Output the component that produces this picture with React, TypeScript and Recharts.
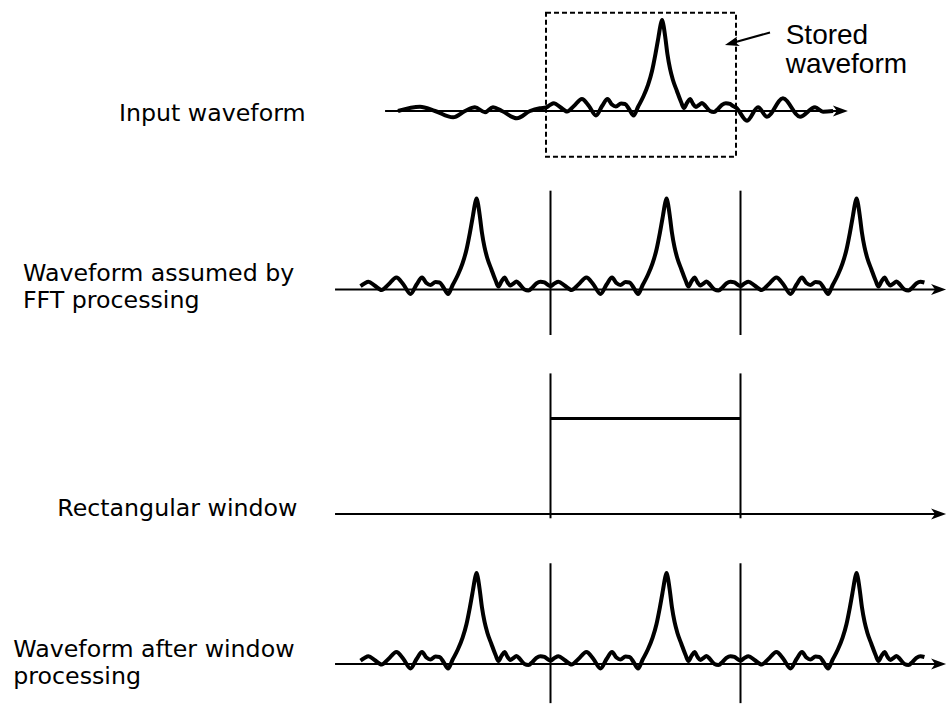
import React from 'react';
import { LineChart, Line, XAxis, YAxis, ReferenceLine, ReferenceArea, ReferenceDot } from 'recharts';

// one period of the pulse train (t in periods, v relative to the peak height)
const periodT = [0, 0.021, 0.042, 0.074, 0.111, 0.147, 0.189, 0.226, 0.263, 0.295, 0.324, 0.347, 0.368, 0.395, 0.416, 0.437, 0.461, 0.484, 0.511, 0.537, 0.558, 0.576, 0.592, 0.603, 0.611, 0.618, 0.629, 0.639, 0.653, 0.668, 0.689, 0.711, 0.726, 0.742, 0.758, 0.774, 0.789, 0.805, 0.821, 0.839, 0.863, 0.884, 0.905, 0.926, 0.947, 0.968, 0.984];
const periodV = [0.038, 0.066, 0.084, 0.044, -0.005, 0.055, 0.132, 0.055, -0.049, 0.055, 0.132, 0.071, 0.049, 0.082, 0.077, 0.022, -0.049, 0.044, 0.154, 0.286, 0.44, 0.626, 0.813, 0.945, 1.0, 0.945, 0.791, 0.626, 0.462, 0.341, 0.22, 0.099, 0.033, 0.088, 0.132, 0.077, 0.044, 0.066, 0.088, 0.055, 0.0, -0.011, 0.022, 0.066, 0.085, 0.077, 0.055];

// input waveform before the stored block
const leadT = [-0.779, -0.663, -0.584, -0.489, -0.426, -0.374, -0.321, -0.279, -0.232, -0.153, -0.084, -0.032];
const leadV = [0, 0.047, 0, -0.069, 0, 0.041, -0.014, 0.041, 0, -0.08, 0, 0.03];

// input waveform after the stored block
const tailT = [1.0, 1.058, 1.116, 1.163, 1.247, 1.337, 1.416, 1.458, 1.511];
const tailV = [0.038, -0.107, 0.041, -0.063, 0.14, -0.063, 0.041, -0.008, 0];

const periodOffsets = [-1, 0, 1];
const waveEnd = 1.97;

const markerT = [0, 1];
const windowT = [0, 1];
const windowV = [1.05, 1.05];

const PX_PER_T = 190;
const PX_PER_V = 91;
const W = 949;

const inputData = [
  ...leadT.map((t, i) => ({ t, v: leadV[i] })),
  ...periodT.map((t, i) => ({ t, v: periodV[i] })),
  ...tailT.map((t, i) => ({ t, v: tailV[i] })),
];

const repeatedData = periodOffsets
  .flatMap((k) => periodT.map((t, i) => ({ t: k + t, v: periodV[i] })))
  .filter((d) => d.t <= waveEnd);

const windowData = windowT.map((t, i) => ({ t, v: windowV[i] }));

const arrowHead = (len: number, half: number, notch: number, angle: number) => (props: any) => {
  const { cx, cy } = props;
  return (
    <path
      d={`M0,0 L${-len},${-half} L${-len + notch},0 L${-len},${half} Z`}
      transform={`translate(${cx},${cy}) rotate(${angle})`}
      fill="#000"
    />
  );
};

type PanelProps = {
  top: number;
  height: number;
  axisY: number;
  originX: number;
  data: Array<{ t: number; v: number }>;
  lineWidth: number;
  axisFrom: number;
  axisTo: number;
  markers?: [number, number];
  extra?: React.ReactNode[];
};

const Panel = ({ top, height, axisY, originX, data, lineWidth, axisFrom, axisTo, markers, extra }: PanelProps) => {
  const xDomain = [-originX / PX_PER_T, (W - originX) / PX_PER_T];
  const yDomain = [(axisY - (top + height)) / PX_PER_V, (axisY - top) / PX_PER_V];
  return (
    <div style={{ position: 'absolute', left: 0, top }}>
      <LineChart width={W} height={height} data={data} margin={{ top: 0, right: 0, bottom: 0, left: 0 }}>
        <XAxis dataKey="t" type="number" domain={xDomain} allowDataOverflow hide />
        <YAxis type="number" domain={yDomain} allowDataOverflow hide />
        <ReferenceLine
          segment={[{ x: axisFrom, y: 0 }, { x: axisTo - 0.03, y: 0 }]}
          stroke="#000"
          strokeWidth={2}
        />
        <ReferenceDot x={axisTo} y={0} r={1} ifOverflow="visible" shape={arrowHead(15, 5.5, 4, 0)} />
        {markers
          ? markerT.map((t) => (
              <ReferenceLine
                key={'m' + t}
                segment={[{ x: t, y: markers[0] }, { x: t, y: markers[1] }]}
                stroke="#000"
                strokeWidth={2}
              />
            ))
          : null}
        {extra}
        <Line
          dataKey="v"
          type={lineWidth > 3 ? 'monotone' : 'linear'}
          stroke="#000"
          strokeWidth={lineWidth}
          strokeLinejoin="round"
          dot={false}
          activeDot={false}
          isAnimationActive={false}
        />
      </LineChart>
    </div>
  );
};

const labelFont: React.CSSProperties = {
  position: 'absolute',
  fontFamily: '"DejaVu Sans", sans-serif',
  fontSize: 23.7,
  lineHeight: 1,
  whiteSpace: 'nowrap',
  color: '#000',
};

// baseline -> top for line-height 1
const dv = (baseline: number) => baseline - 0.846 * 23.7;

export default function App() {
  return (
    <div style={{ position: 'absolute', left: 0, top: 0, width: W, height: 704, background: '#fff', overflow: 'hidden' }}>
      <Panel
        top={0}
        height={175}
        axisY={111}
        originX={546}
        data={inputData}
        lineWidth={4}
        axisFrom={-0.847}
        axisTo={1.589}
        extra={[
          <ReferenceArea
            key="box"
            x1={0}
            x2={1}
            y1={-0.502}
            y2={1.08}
            fill="none"
            stroke="#000"
            strokeWidth={2}
            strokeDasharray="5 3"
          />,
          <ReferenceLine
            key="ptr"
            segment={[{ x: 1.179, y: 0.863 }, { x: 0.975, y: 0.745 }]}
            stroke="#000"
            strokeWidth={2}
          />,
          <ReferenceDot key="ptrHead" x={0.942} y={0.725} r={1} ifOverflow="visible" shape={arrowHead(14, 5, 3.5, 164.5)} />,
        ]}
      />
      <Panel
        top={175}
        height={175}
        axisY={289.5}
        originX={550.5}
        data={repeatedData}
        lineWidth={4}
        axisFrom={-1.134}
        axisTo={2.082}
        markers={[-0.5, 1.086]}
      />
      <Panel
        top={350}
        height={190}
        axisY={514}
        originX={550.5}
        data={windowData}
        lineWidth={3}
        axisFrom={-1.134}
        axisTo={2.082}
        markers={[-0.047, 1.545]}
      />
      <Panel
        top={540}
        height={164}
        axisY={664}
        originX={550.5}
        data={repeatedData}
        lineWidth={4}
        axisFrom={-1.134}
        axisTo={2.082}
        markers={[-0.43, 1.107]}
      />

      <div style={{ ...labelFont, left: 119, top: dv(122.3) }}>Input waveform</div>
      <div style={{ ...labelFont, left: 23, top: dv(282.3) }}>Waveform assumed by</div>
      <div style={{ ...labelFont, left: 23, top: dv(309.5) }}>FFT processing</div>
      <div style={{ ...labelFont, left: 57.3, top: dv(517.3) }}>Rectangular window</div>
      <div style={{ ...labelFont, left: 13.3, top: dv(658.3) }}>Waveform after window</div>
      <div style={{ ...labelFont, left: 13.3, top: dv(685.3) }}>processing</div>

      <div
        style={{
          position: 'absolute',
          left: 785.7,
          top: 21,
          fontFamily: '"Liberation Sans", Arial, sans-serif',
          fontSize: 28,
          lineHeight: '28.5px',
          whiteSpace: 'nowrap',
          color: '#000',
        }}
      >
        Stored
        <br />
        waveform
      </div>
    </div>
  );
}
